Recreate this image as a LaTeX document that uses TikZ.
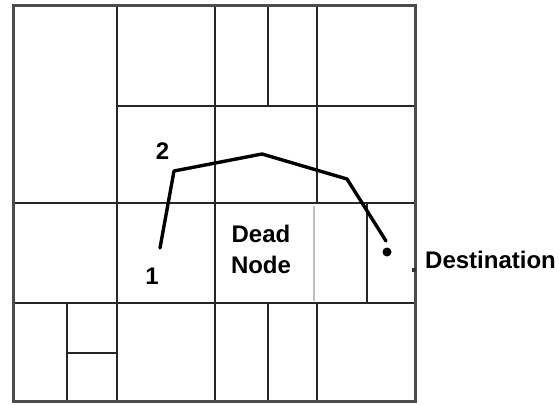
\documentclass[tikz,border=0pt]{standalone}
\usepackage{fontspec}
\setmainfont{Liberation Sans}
\usetikzlibrary{positioning}

\begin{document}
\begin{tikzpicture}[x=1pt,y=-1pt,
  wall/.style={draw=black!85,line width=1.9pt},
  frame/.style={draw=black!70,line width=3pt},
  faint/.style={draw=black!25,line width=1.2pt},
  route/.style={draw=black,line width=3.4pt,line join=round,line cap=round},
  label/.style={font=\bfseries\fontsize{24}{31}\selectfont,text=black,inner sep=0pt},
]
\useasboundingbox (0,0) rectangle (559,404);
\fill[white] (0,0) rectangle (559,404);
\foreach \ya/\xa/\xb in {106/117/415,203/13/415,303/13/415,353/67/117}{\draw[wall] (\xa,\ya)--(\xb,\ya);}
\foreach \xa/\ya/\yb in {117/6/401,215/6/401,268/6/106,268/303/401,317/6/203,317/303/401,367/203/303,67/303/401}{\draw[wall] (\xa,\ya)--(\xa,\yb);}
\draw[faint] (314,206)--(314,301);
\draw[frame] (13,6) rectangle (415,401);
\coordinate (n1) at (160,248);
\coordinate (n2) at (174,171);
\coordinate (n3) at (262,154);
\coordinate (n4) at (347,179);
\coordinate (n5) at (386,241);
\draw[route] (n1)--(n2)--(n3)--(n4)--(n5);
\node[circle,fill=black,inner sep=0pt,minimum size=9pt] (dest) at (387,252) {};
\node[fill=black!80,inner sep=0pt,minimum size=4pt] (mark) at (414,270) {};
\node[label,anchor=base] (one) at (152,284) {1};
\node[label,anchor=base] (two) at (162.5,159) {2};
\node[label,align=center] (dead) at (261,249) {Dead\\Node};
\node[label,anchor=base west] (dname) at (425,268) {Destination};
\end{tikzpicture}
\end{document}
